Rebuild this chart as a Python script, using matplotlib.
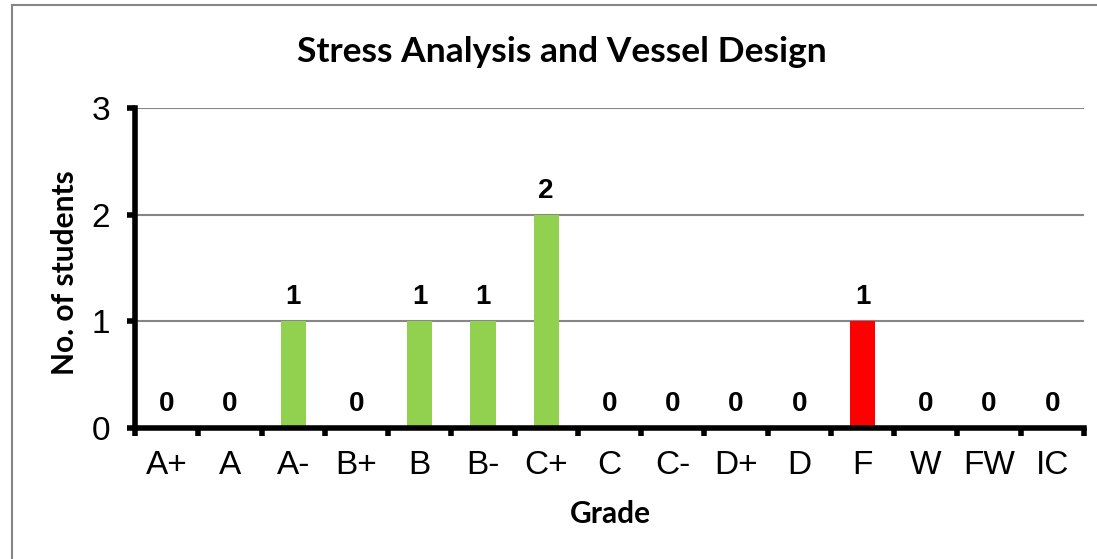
import matplotlib
matplotlib.use("Agg")
import matplotlib.pyplot as plt
from matplotlib.patches import Rectangle
import numpy as np

grades = ["A+", "A", "A-", "B+", "B", "B-", "C+", "C", "C-", "D+", "D", "F", "W", "FW", "IC"]
counts = [0, 0, 1, 0, 1, 1, 2, 0, 0, 0, 0, 1, 0, 0, 0]
colors = ["#92D050"] * 11 + ["#FF0000"] + ["#92D050"] * 3
title = "Stress Analysis and Vessel Design"

W, H = 1097, 559
fig = plt.figure(figsize=(W / 100, H / 100), dpi=100)
fig.patches.append(Rectangle((12 / W, -0.1), 1.2, 1 - 5 / H + 0.1, transform=fig.transFigure,
                             fill=False, edgecolor="#868686", linewidth=1.5))

ax = fig.add_axes([135 / W, 1 - 428 / H, (1084 - 135) / W, (428 - 108) / H])
x = np.arange(len(grades))
ax.bar(x, counts, width=0.4, color=colors, zorder=3)
ax.set_xlim(-0.5, len(grades) - 0.5)
ax.set_ylim(0, 3)
ax.set_yticks([0, 1, 2, 3])
ax.yaxis.grid(True, color="#868686", linewidth=1.5, zorder=0)
ax.set_axisbelow(True)

for s in ["top", "right"]:
    ax.spines[s].set_visible(False)
for s in ["left", "bottom"]:
    ax.spines[s].set_linewidth(4)
    ax.spines[s].set_zorder(4)

ax.set_xticks(x)
ax.set_xticklabels(grades, fontfamily="Liberation Sans", fontsize=24)
ax.tick_params(axis="x", which="major", length=0, pad=15.5)
ax.set_xticks(np.arange(-0.5, len(grades)), minor=True)
ax.tick_params(axis="x", which="minor", length=6, width=4, direction="out")
ax.tick_params(axis="y", length=6, width=4, direction="out", pad=12)
for lab in ax.get_yticklabels():
    lab.set_fontfamily("Liberation Sans")
    lab.set_fontsize(24)

for xi, c in zip(x, counts):
    ax.annotate(str(c), (xi, c), xytext=(0, 8), textcoords="offset points",
                ha="center", va="bottom", fontsize=20, fontweight="bold",
                fontfamily="Liberation Sans")

fig.text(562 / W, 1 - 52 / H, title, ha="center", va="center",
         fontsize=25.5, fontweight="bold", fontfamily="Lato")
fig.text(65 / W, 1 - 273 / H, "No. of students", ha="center", va="center", rotation=90,
         fontsize=21.5, fontweight="bold", fontfamily="Lato")
fig.text(610 / W, 1 - 514 / H, "Grade", ha="center", va="center",
         fontsize=21.5, fontweight="bold", fontfamily="Lato")

fig.savefig("out.png", dpi=100)
